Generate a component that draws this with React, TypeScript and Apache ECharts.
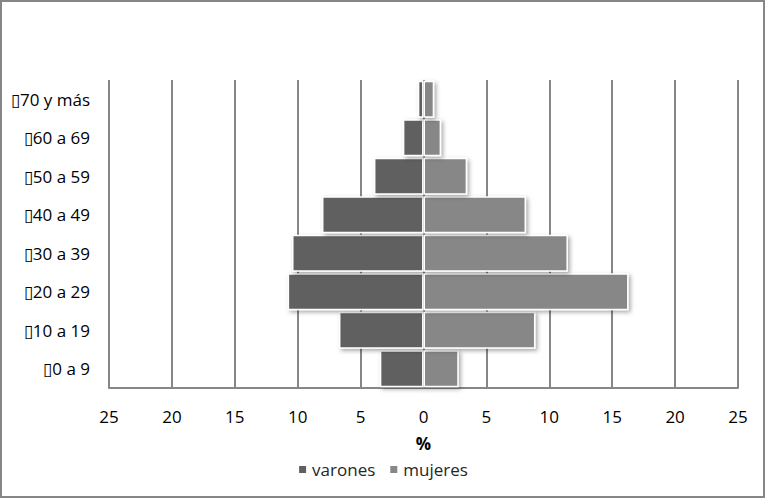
import React, { useEffect, useRef } from "react";
import * as echarts from "echarts";

const categories = ["0 a 9", "10 a 19", "20 a 29", "30 a 39", "40 a 49", "50 a 59", "60 a 69", "70 y más"];
const varones = [3.47, 6.72, 10.8, 10.45, 8.07, 3.94, 1.64, 0.45];
const mujeres = [2.8, 8.9, 16.3, 11.48, 8.15, 3.47, 1.4, 0.85];
const xMin = -25;
const xMax = 25;
const xStep = 5;

const FONT = "'Open Sans', 'Noto Sans', sans-serif";

export default function App() {
  const ref = useRef<HTMLDivElement>(null);
  useEffect(() => {
    document.body.style.margin = "0";
    const chart = echarts.init(ref.current!, null, { renderer: "svg" });
    const barStyle = (color: string) => ({
      color,
      borderColor: "#ffffff",
      borderWidth: 1.5,
      shadowColor: "rgba(0,0,0,0.35)",
      shadowBlur: 4,
      shadowOffsetX: 2,
      shadowOffsetY: 2,
    });
    chart.setOption({
      animation: false,
      backgroundColor: "transparent",
      textStyle: { fontFamily: FONT },
      grid: { left: 109, right: 27, top: 80, bottom: 110, containLabel: false },
      legend: {
        bottom: 15,
        left: "center",
        itemWidth: 9,
        itemHeight: 9,
        itemGap: 13,
        icon: "rect",
        textStyle: { fontSize: 17, color: "#262626", fontFamily: FONT },
        data: ["varones", "mujeres"],
      },
      xAxis: {
        type: "value",
        min: xMin,
        max: xMax,
        interval: xStep,
        name: "%",
        nameLocation: "middle",
        nameGap: 47,
        nameTextStyle: { fontSize: 17, fontWeight: "bold", color: "#000", fontFamily: FONT },
        axisLine: { show: true, lineStyle: { color: "#868686", width: 2 } },
        axisTick: { show: false },
        axisLabel: {
          fontSize: 17,
          color: "#000",
          margin: 20,
          formatter: (v: number) => String(Math.abs(v)),
        },
        splitLine: { show: true, lineStyle: { color: "#868686", width: 2 } },
      },
      yAxis: {
        type: "category",
        data: categories,
        axisLine: { show: false },
        axisTick: { show: false },
        axisLabel: {
          fontSize: 17,
          color: "#000",
          margin: 19,
          formatter: (v: string) => "\u25AF" + v,
        },
      },
      series: [
        {
          name: "varones",
          type: "bar",
          data: varones.map((v) => -v),
          barWidth: "96%",
          barGap: "-100%",
          itemStyle: barStyle("#606060"),
        },
        {
          name: "mujeres",
          type: "bar",
          data: mujeres,
          barWidth: "96%",
          barGap: "-100%",
          itemStyle: barStyle("#878787"),
        },
      ],
    });
    return () => chart.dispose();
  }, []);
  return (
    <div
      style={{
        position: "absolute",
        left: 0,
        top: 0,
        width: 765,
        height: 498,
        boxSizing: "border-box",
        border: "2px solid #868686",
        background: "#fff",
      }}
    >
      <div ref={ref} style={{ position: "absolute", left: -2, top: -2, width: 765, height: 498 }} />
    </div>
  );
}
